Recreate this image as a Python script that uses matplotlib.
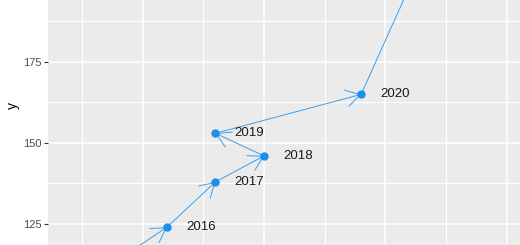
import matplotlib
matplotlib.use("Agg")
import matplotlib.pyplot as plt

# datos del grafico (año, x, y)
years = [2015, 2016, 2017, 2018, 2019, 2020, 2021]
xs = [6, 12, 16, 20, 16, 28, 34]
ys = [109, 124, 138, 146, 153, 165, 215]
yticks = [125, 150, 175]

W, H = 520, 245
fig = plt.figure(figsize=(W / 100, H / 100), dpi=100)
left = 47.5
ax = fig.add_axes([left / W, 0, 1 - left / W, 1])
ax.set_facecolor("#EBEBEB")
for s in ax.spines.values():
    s.set_visible(False)

# limites para que el panel quede recortado como en la imagen
ax.set_xlim(20 - (264 - left) / 12.14, 20 + (W - 264) / 12.14)
ax.set_ylim(175 - (H - 62) / 3.24, 175 + 62 / 3.24)
x0, x1 = ax.get_xlim()
y0, y1 = ax.get_ylim()

ax.set_yticks(yticks)
ax.set_yticks([137.5, 162.5, 187.5], minor=True)
ax.set_xticks([10, 20, 30, 40])
ax.set_xticks([5, 15, 25, 35], minor=True)
ax.grid(True, which="major", color="white", linewidth=1.1)
ax.grid(True, which="minor", color="white", linewidth=0.8)
ax.set_axisbelow(True)
ax.tick_params(axis="x", which="both", length=0, labelbottom=False)
ax.tick_params(axis="y", which="major", length=3, width=0.8, color="#333333",
               labelsize=8, labelcolor="#4D4D4D", pad=1.5)
ax.tick_params(axis="y", which="minor", length=0)
for lab in ax.get_yticklabels():
    lab.set_family("Liberation Sans")

fig.text(13 / W, 1 - 105 / H, "y", rotation=90, ha="center", va="center",
         fontsize=10, family="Liberation Sans", color="black")

# segmentos con flecha
for i in range(len(xs) - 1):
    ax.annotate("", xy=(xs[i + 1], ys[i + 1]), xytext=(xs[i], ys[i]),
                annotation_clip=False,
                arrowprops=dict(arrowstyle="->,head_length=1.0,head_width=0.6",
                                color="#3A9FEE", lw=0.7, mutation_scale=10,
                                shrinkA=0, shrinkB=0))

ax.plot(xs, ys, "o", color="#1E8FE8", markersize=5, linestyle="none", zorder=5)
# solo etiquetas de los puntos que se ven
for yr, x, y in zip(years, xs, ys):
    if x0 < x < x1 and y0 < y < y1:
        ax.text(x + 2.8, y, str(yr), ha="center", va="center", fontsize=9.5,
                family="Liberation Sans", color="#1A1A1A")

fig.savefig("out.png", dpi=100)
